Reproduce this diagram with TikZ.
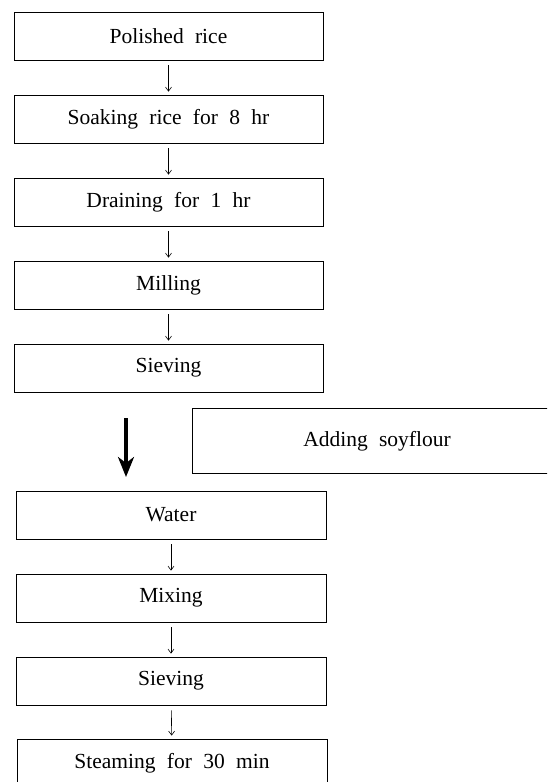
\documentclass[tikz,border=0pt]{standalone}
\usepackage{fontspec}
\setmainfont{Liberation Serif}[WordSpace={2.1}]
\usetikzlibrary{arrows.meta}
\begin{document}
\begin{tikzpicture}[x=1pt,y=-1pt,
  box/.style={draw, line width=0.8pt, minimum width=309pt, minimum height=48pt,
    inner sep=0pt, font=\fontsize{21.5}{24}\selectfont},
  flow/.style={-{Straight Barb[length=4pt,width=6pt]}, line width=0.6pt,
    shorten <=5pt, shorten >=3pt},
  bigflow/.style={-{Stealth[length=20pt,width=16pt,inset=6pt]}, line width=3.2pt}]
\useasboundingbox (0,0) rectangle (547,782);
\clip (0,0) rectangle (547,782);
\node[box, draw=none, minimum width=368pt, minimum height=64pt] (soy) at (377,441) {Adding soyflour};
\draw[line width=0.8pt] ([xshift=60pt]soy.north east) -- (soy.north west)
  -- (soy.south west) -- ([xshift=60pt]soy.south east);
\node[box] (b1) at (168.5,36) {Polished rice};
\node[box] (b2) at (168.5,119) {Soaking rice for 8 hr};
\node[box] (b3) at (168.5,202) {Draining for 1 hr};
\node[box] (b4) at (168.5,285) {Milling};
\node[box] (b5) at (168.5,368) {Sieving};
\node[box, minimum width=310pt] (b6) at (171,515) {Water};
\node[box, minimum width=310pt] (b7) at (171,598) {Mixing};
\node[box, minimum width=310pt] (b8) at (171,681) {Sieving};
\node[box, minimum width=310pt] (b9) at (172,763) {Steaming for 30 min};
\draw[flow] (b1) -- (b2);
\draw[flow] (b2) -- (b3);
\draw[flow] (b3) -- (b4);
\draw[flow] (b4) -- (b5);
\draw[flow] (b6) -- (b7);
\draw[flow] (b7) -- (b8);
\draw[flow] (b8) -- (b9);
\coordinate (t1) at (126,418);
\coordinate (t2) at (126,477);
\draw[bigflow] (t1) -- (t2);
\end{tikzpicture}
\end{document}
